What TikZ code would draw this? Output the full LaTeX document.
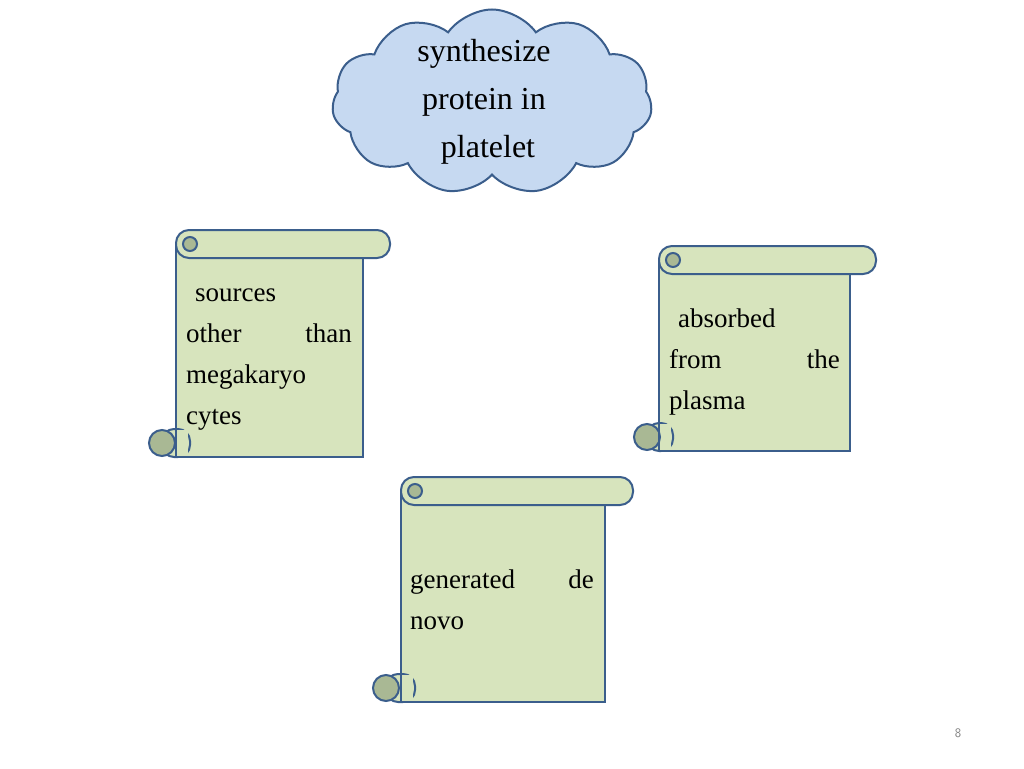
\documentclass[tikz,border=0pt]{standalone}
\usepackage{fontspec}
\setmainfont{Liberation Serif}
\usetikzlibrary{shapes.symbols}
\definecolor{cloudfill}{HTML}{C6D9F1}
\definecolor{edge}{HTML}{3B5E8C}
\definecolor{paper}{HTML}{D7E4BD}
\definecolor{curl}{HTML}{A9B894}
\tikzset{
  ln/.style={draw=edge,line width=2pt},
  txt/.style={font=\fontsize{27}{32}\selectfont,inner sep=0pt,anchor=base west},
  txtr/.style={font=\fontsize{27}{32}\selectfont,inner sep=0pt,anchor=base east}
}
\newcommand\scrollbox[6]{% xl, ytop, xbarright, xbodyright, ybottom, xcurlleft
  \fill[paper,ln] (#1,#2+14) rectangle (#4,#5);
  \filldraw[paper,ln,rounded corners=13pt] (#1,#2) rectangle (#3,#2+28);
  \filldraw[curl,ln] (#1+14,#2+14) circle (7);
  \filldraw[paper,ln,rounded corners=12pt] (#6+14,#5-28) rectangle (#1+14,#5);
  \fill[paper] (#1,#5-27) rectangle (#1+12,#5-1);
  \filldraw[curl,ln] (#6+14,#5-14) circle (13);
  \draw[ln] (#1,#5-28) -- (#1,#5);
}
\begin{document}
\begin{tikzpicture}[x=1pt,y=-1pt]
\useasboundingbox (0,0) rectangle (1024,768);
\fill[white] (0,0) rectangle (1024,768);
\node[cloud,cloud puffs=11,cloud puff arc=110,aspect=1.7,fill=cloudfill,draw=edge,line width=2pt,minimum width=320pt,minimum height=185pt,inner sep=0pt] (cloud) at (492,102) {};
\node[align=center,font=\fontsize{32}{48}\selectfont,inner sep=0pt] (ctext) at (484,102) {synthesize\\protein in\\\ platelet};
\scrollbox{176}{230}{390}{363}{457}{148}
\scrollbox{659}{246}{876}{850}{451}{633}
\scrollbox{401}{477}{633}{605}{702}{372}
\node[txt] (a1) at (195,301) {sources};
\node[txt] (a2) at (186,342) {other};
\node[txtr] (a3) at (352,342) {than};
\node[txt] (a4) at (186,383) {megakaryo};
\node[txt] (a5) at (186,424) {cytes};
\node[txt] (b1) at (678,327) {absorbed};
\node[txt] (b2) at (669,368) {from};
\node[txtr] (b3) at (840,368) {the};
\node[txt] (b4) at (669,409) {plasma};
\node[txt] (c1) at (410,588) {generated};
\node[txtr] (c2) at (594,588) {de};
\node[txt] (c3) at (410,629) {novo};
\node[font=\fontsize{13}{15}\selectfont\sffamily,text=gray] (pg) at (958,733) {8};
\end{tikzpicture}
\end{document}
